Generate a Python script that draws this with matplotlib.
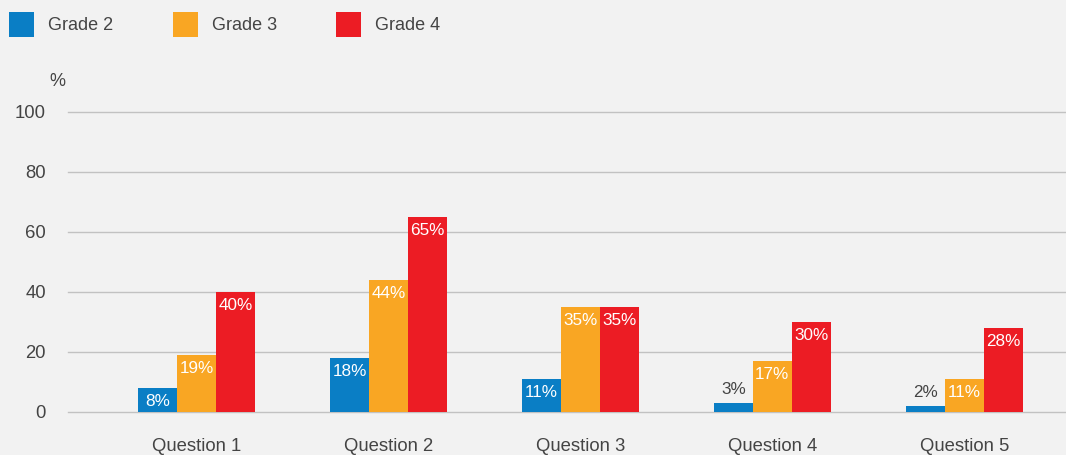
import numpy as np
import matplotlib.pyplot as plt
from matplotlib.patches import Patch

questions = ['Question 1', 'Question 2', 'Question 3', 'Question 4', 'Question 5']
grade2 = [8, 18, 11, 3, 2]
grade3 = [19, 44, 35, 17, 11]
grade4 = [40, 65, 35, 30, 28]
y_ticks = [0, 20, 40, 60, 80, 100]

series = [('Grade 2', grade2, '#0a7ec5'),
          ('Grade 3', grade3, '#f9a623'),
          ('Grade 4', grade4, '#ec1c24')]

plt.rcParams['font.family'] = ['Liberation Sans', 'DejaVu Sans']
text_color = '#444444'
bg = '#f2f2f2'

fig = plt.figure(figsize=(10.66, 4.55), dpi=100, facecolor=bg)
ax = fig.add_axes([68 / 1066, 1 - 412 / 455, 1 - 68 / 1066, (412 - 112) / 455])
ax.set_facecolor(bg)

x = np.arange(len(questions))
width = 0.203

for i, (name, vals, color) in enumerate(series):
    pos = x + (i - 1) * width
    bars = ax.bar(pos, vals, width, color=color, label=name, zorder=3)
    for b, v in zip(bars, vals):
        cx = b.get_x() + b.get_width() / 2
        if v >= 5:
            ax.annotate(f'{v}%', (cx, v), xytext=(0, -10), textcoords='offset points',
                        ha='center', va='center', color='white', fontsize=12.3, zorder=4)
        else:
            ax.annotate(f'{v}%', (cx, v), xytext=(0, 10), textcoords='offset points',
                        ha='center', va='center', color=text_color, fontsize=12.3, zorder=4)

ax.set_xlim(-0.67, 4.53)
ax.set_ylim(0, 100)
ax.set_yticks(y_ticks)
ax.set_xticks(x)
ax.set_xticklabels(questions)
ax.tick_params(axis='both', length=0, labelsize=13.3, labelcolor=text_color)
ax.tick_params(axis='y', pad=16)
ax.tick_params(axis='x', pad=19)
ax.yaxis.grid(True, color='#c2c2c2', linewidth=1, zorder=0)
for gl in ax.get_ygridlines():
    gl.set_clip_on(False)
ax.set_axisbelow(True)
for s in ax.spines.values():
    s.set_visible(False)

fig.text(57 / 1066, 1 - 82 / 455, '%', ha='center', va='center', fontsize=13, color=text_color)

handles = [Patch(facecolor=c, label=n) for n, _, c in series]
fig.legend(handles=handles, loc='upper left', bbox_to_anchor=(9 / 1066, 1 - 12 / 455),
           ncol=3, frameon=False, fontsize=13, labelcolor=text_color,
           handlelength=1.38, handleheight=1.75, handletextpad=0.78,
           columnspacing=3.3, borderpad=0, borderaxespad=0)

fig.savefig('out.png', dpi=100, facecolor=bg)
